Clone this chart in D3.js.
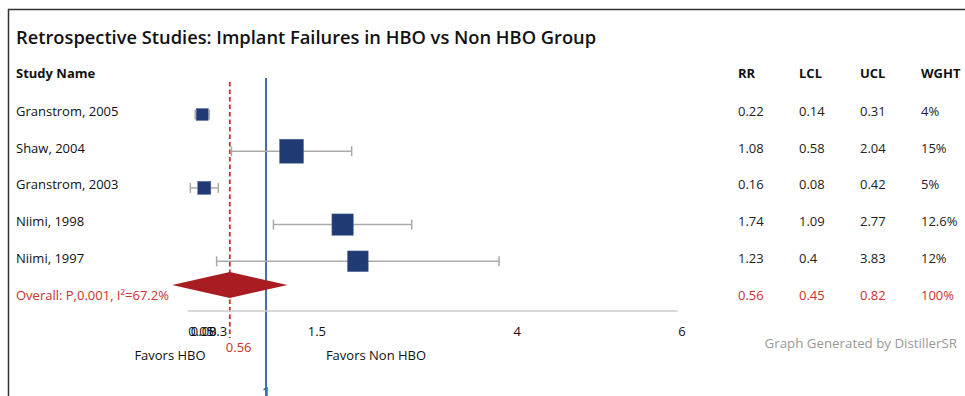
<!DOCTYPE html>
<html>
<head>
<meta charset="utf-8">
<script src="https://cdn.jsdelivr.net/npm/d3@7"></script>
<style>
  body { margin: 0; background: #fff; }
  svg { display: block; font-family: 'Open Sans', sans-serif; }
</style>
</head>
<body>
<div id="chart"></div>
<script>
'use strict'

// study rows
var studies = ['Granstrom, 2005', 'Shaw, 2004', 'Granstrom, 2003', 'Niimi, 1998', 'Niimi, 1997']
var rr = [0.22, 1.08, 0.16, 1.74, 1.23]
var lcl = [0.14, 0.58, 0.08, 1.09, 0.4]
var ucl = [0.31, 2.04, 0.42, 2.77, 3.83]
var weights = [4, 15, 5, 12.6, 12]

// pooled result
var overallLabel = 'Overall: P,0.001, I\u00b2=67.2%'
var overallRR = 0.56
var overallLCL = 0.45
var overallUCL = 0.82
var overallWeight = 100
var diamondHalf = 0.7

var tickValues = [0.05, 0.08, 0.3, 1.5, 4, 6]
var columns = ['RR', 'LCL', 'UCL', 'WGHT']

var W = 965
var H = 396
var FS = 13
var navy = '#203a74'
var red = '#a81c22'
var redText = '#cc3030'
var blue = '#3b6fae'

var svg = d3.select('#chart').append('svg')
  .attr('width', W)
  .attr('height', H)

// frame
svg.append('path')
  .attr('d', 'M8.5,' + H + 'V9.5H' + W)
  .attr('fill', 'none')
  .attr('stroke', '#333')
  .attr('stroke-width', 1.5)

svg.append('text')
  .attr('x', 16)
  .attr('y', 44)
  .attr('font-size', 18.3)
  .attr('font-weight', 600)
  .attr('fill', '#111')
  .text('Retrospective Studies: Implant Failures in HBO vs Non HBO Group')

var x = d3.scaleLinear().domain([0, 6]).range([183.7, 677.7])
var y = d3.scalePoint().domain(d3.range(studies.length + 1)).range([111, 294.5])
var size = d3.scaleLinear().domain([4, 15]).range([12, 24])

var rows = studies.map(function (name, i) {
  return { name: name, rr: rr[i], lcl: lcl[i], ucl: ucl[i], w: weights[i] }
})

// headers
svg.append('text')
  .attr('x', 16).attr('y', 78)
  .attr('font-size', FS).attr('font-weight', 700).attr('fill', '#111')
  .text('Study Name')

var colX = d3.scalePoint().domain(columns).range([738, 921])
svg.selectAll('text.colhead')
  .data(columns)
  .enter().append('text')
  .attr('class', 'colhead')
  .attr('x', function (d) { return colX(d) })
  .attr('y', 78)
  .attr('font-size', FS).attr('font-weight', 700).attr('fill', '#111')
  .text(function (d) { return d })

// reference lines
svg.append('line')
  .attr('x1', x(1)).attr('x2', x(1))
  .attr('y1', 78).attr('y2', H)
  .attr('stroke', blue).attr('stroke-width', 2)

svg.append('line')
  .attr('x1', x(overallRR)).attr('x2', x(overallRR))
  .attr('y1', 82).attr('y2', 338)
  .attr('stroke', redText).attr('stroke-width', 1.8)
  .attr('stroke-dasharray', '4.5,3')

// axis
svg.append('line')
  .attr('x1', x(d3.min(tickValues))).attr('x2', x(d3.max(tickValues)))
  .attr('y1', 311).attr('y2', 311)
  .attr('stroke', '#ccc').attr('stroke-width', 1.5)

var axis = svg.append('g')
  .attr('transform', 'translate(0,324)')
  .call(d3.axisBottom(x).tickValues(tickValues).tickSize(0).tickFormat(d3.format('')))
axis.select('.domain').remove()
axis.selectAll('text')
  .attr('text-anchor', 'start')
  .attr('font-family', "'Open Sans', sans-serif")
  .attr('font-size', FS)
  .attr('fill', '#111')

svg.append('text')
  .attr('x', x(overallRR) - 4).attr('y', 352)
  .attr('font-size', FS).attr('fill', redText)
  .text(d3.format('')(overallRR))

svg.append('text')
  .attr('x', x(1)).attr('y', 395.5)
  .attr('text-anchor', 'middle')
  .attr('font-size', 13).attr('font-weight', 700).attr('fill', blue)
  .text('1')

svg.append('text')
  .attr('x', 170).attr('y', 360)
  .attr('text-anchor', 'middle')
  .attr('font-size', FS).attr('fill', '#111')
  .text('Favors HBO')

svg.append('text')
  .attr('x', 376).attr('y', 360)
  .attr('text-anchor', 'middle')
  .attr('font-size', FS).attr('fill', '#111')
  .text('Favors Non HBO')

svg.append('text')
  .attr('x', 957).attr('y', 348)
  .attr('text-anchor', 'end')
  .attr('font-size', 13.3).attr('fill', '#999')
  .text('Graph Generated by DistillerSR')

// study rows
var g = svg.selectAll('g.study')
  .data(rows)
  .enter().append('g')
  .attr('class', 'study')

g.append('text')
  .attr('x', 16)
  .attr('y', function (d, i) { return y(i) + 5 })
  .attr('font-size', FS).attr('fill', '#111')
  .text(function (d) { return d.name })

g.append('line')
  .attr('x1', function (d) { return x(d.lcl) })
  .attr('x2', function (d) { return x(d.ucl) })
  .attr('y1', function (d, i) { return y(i) + 3.5 })
  .attr('y2', function (d, i) { return y(i) + 3.5 })
  .attr('stroke', '#aaa').attr('stroke-width', 1.5)

g.selectAll('line.cap')
  .data(function (d, i) { return [{ v: d.lcl, i: i }, { v: d.ucl, i: i }] })
  .enter().append('line')
  .attr('class', 'cap')
  .attr('x1', function (d) { return x(d.v) })
  .attr('x2', function (d) { return x(d.v) })
  .attr('y1', function (d) { return y(d.i) + 3.5 - 5 })
  .attr('y2', function (d) { return y(d.i) + 3.5 + 5 })
  .attr('stroke', '#aaa').attr('stroke-width', 1.5)

g.append('rect')
  .attr('x', function (d) { return x((d.lcl + d.ucl) / 2) - size(d.w) / 2 })
  .attr('y', function (d, i) { return y(i) + 3.5 - size(d.w) / 2 })
  .attr('width', function (d) { return size(d.w) })
  .attr('height', function (d) { return size(d.w) })
  .attr('fill', navy)
  .attr('stroke', '#5a6fa0').attr('stroke-width', 0.5)

var fmt = function (v) { return String(v) }
g.selectAll('text.val')
  .data(function (d, i) { return [fmt(d.rr), fmt(d.lcl), fmt(d.ucl), d.w + '%'].map(function (t, k) { return { t: t, k: k, i: i } }) })
  .enter().append('text')
  .attr('class', 'val')
  .attr('x', function (d) { return colX(columns[d.k]) })
  .attr('y', function (d) { return y(d.i) + 5 })
  .attr('font-size', FS).attr('fill', '#222')
  .text(function (d) { return d.t })

// overall row
var oy = y(studies.length)
svg.append('text')
  .attr('x', 16).attr('y', oy + 5)
  .attr('font-size', FS).attr('fill', redText)
  .text(overallLabel)

var dy = oy - 9.5
svg.append('path')
  .attr('d', 'M' + x(overallRR - diamondHalf) + ',' + dy +
    'L' + x(overallRR) + ',' + (dy - 13) +
    'L' + x(overallRR + diamondHalf) + ',' + dy +
    'L' + x(overallRR) + ',' + (dy + 13) + 'Z')
  .attr('fill', red)

svg.selectAll('text.oval')
  .data([fmt(overallRR), fmt(overallLCL), fmt(overallUCL), overallWeight + '%'])
  .enter().append('text')
  .attr('class', 'oval')
  .attr('x', function (d, k) { return colX(columns[k]) })
  .attr('y', oy + 5)
  .attr('font-size', FS).attr('fill', redText)
  .text(function (d) { return d })
</script>
</body>
</html>
